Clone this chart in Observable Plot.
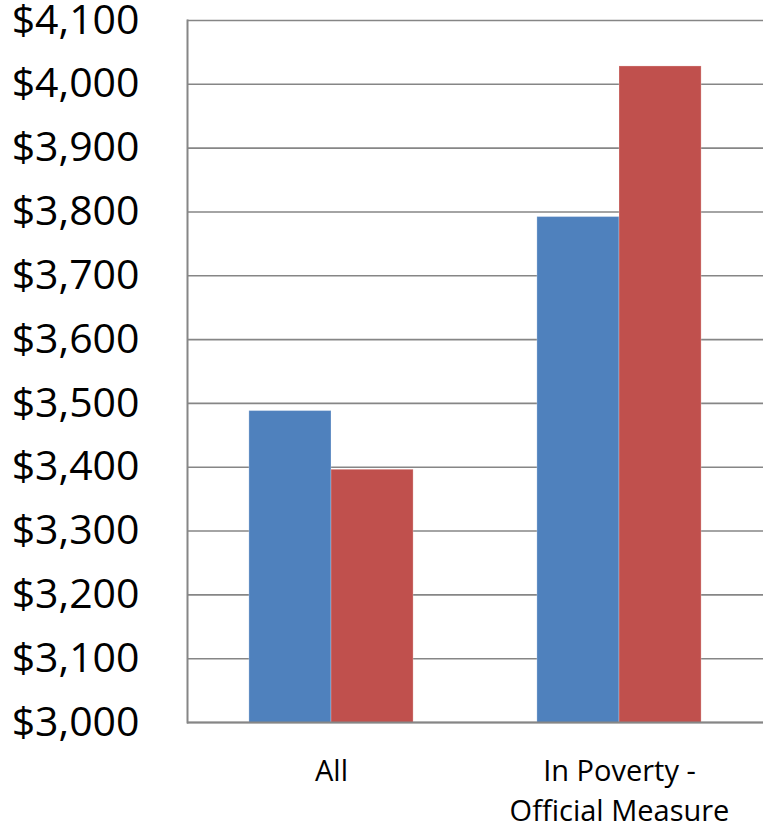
<!DOCTYPE html>
<html><head><meta charset="utf-8">
<script src="https://cdn.jsdelivr.net/npm/d3@7"></script>
<script src="https://cdn.jsdelivr.net/npm/@observablehq/plot@0.6"></script>
<style>body{margin:0;background:#fff;}</style>
</head><body><div id="chart"></div>
<script>
const categories = ["All", "In Poverty -\nOfficial Measure"];
const series = ["Series 1", "Series 2"];
const series1Values = [3488, 3792];
const series2Values = [3396, 4028];
const yTicks = [3000, 3100, 3200, 3300, 3400, 3500, 3600, 3700, 3800, 3900, 4000, 4100];
const colors = ["#4F81BD", "#C0504D"];

const data = categories.flatMap((c, i) => [
  {category: c, series: series[0], value: series1Values[i]},
  {category: c, series: series[1], value: series2Values[i]}
]);

const chart = Plot.plot({
  width: 766,
  height: 833,
  marginLeft: 186,
  marginRight: 3,
  marginTop: 20,
  marginBottom: 111,
  style: {fontFamily: "'Open Sans', sans-serif", background: "#fff", color: "#000"},
  fx: {domain: categories, padding: 0, label: null},
  x: {domain: series, paddingInner: 0, paddingOuter: 0.754, axis: null, round: false},
  y: {domain: [yTicks[0], yTicks[yTicks.length - 1]], label: null},
  color: {domain: series, range: colors},
  marks: [
    Plot.gridY(yTicks, {stroke: "#868686", strokeOpacity: 1, strokeWidth: 1.6}),
    Plot.barY(data, {fx: "category", x: "series", y: "value", fill: "series", clip: "frame", stroke: "#fff", strokeOpacity: 0.25, strokeWidth: 1}),
    Plot.ruleY([yTicks[0]], {stroke: "#868686", strokeWidth: 2}),
    Plot.frame({anchor: "left", facetAnchor: "left", stroke: "#868686", strokeWidth: 2}),
    Plot.axisY({ticks: yTicks, tickFormat: d3.format("$,"), tickSize: 0, tickPadding: 48, fontSize: 41, label: null}),
    Plot.axisFx({anchor: "bottom", tickSize: 0, tickPadding: 30, fontSize: 29, lineHeight: 1.38, label: null})
  ]
});
document.getElementById("chart").appendChild(chart);
</script>
</body></html>
